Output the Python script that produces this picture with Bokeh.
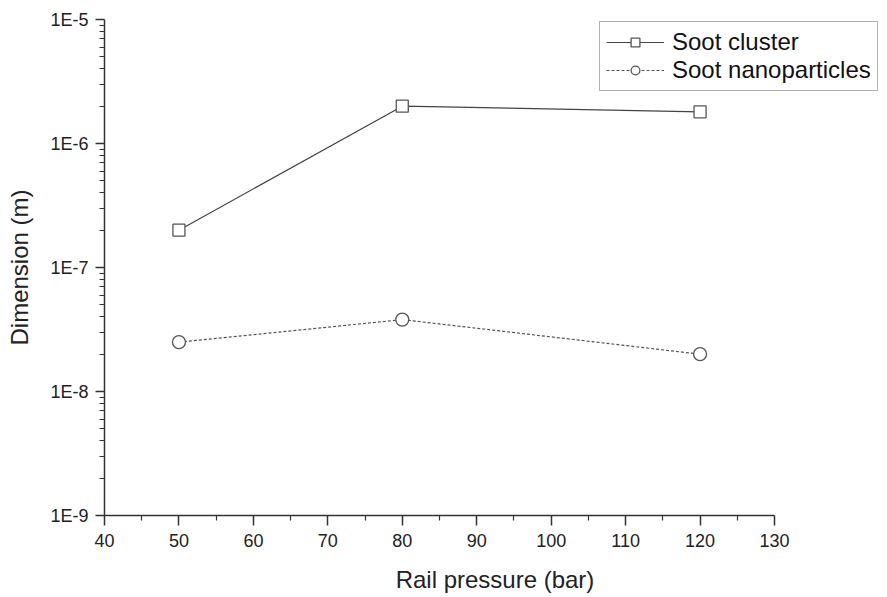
from bokeh.plotting import figure
from bokeh.models import FixedTicker, CustomJSTickFormatter, Legend, LegendItem, Range1d
from bokeh.embed import file_html
from bokeh.resources import INLINE

rail_pressure = [50, 80, 120]
soot_cluster = [2.0e-7, 2.0e-6, 1.8e-6]
soot_nano = [2.5e-8, 3.8e-8, 2.0e-8]

x_ticks = [40, 50, 60, 70, 80, 90, 100, 110, 120, 130]
x_minor = [45, 55, 65, 75, 85, 95, 105, 115, 125]
y_ticks = [1e-9, 1e-8, 1e-7, 1e-6, 1e-5]
y_labels = ["1E-9", "1E-8", "1E-7", "1E-6", "1E-5"]
y_minor = [m * d for d in [1e-9, 1e-8, 1e-7, 1e-6] for m in range(2, 10)]

FONT = "Liberation Sans"
INK = "#333333"

W, H = 885, 595
LEFT, TOP = 104, 19
BOTTOM = H - 516
frame_w = W - LEFT
axis_px = 670  # pixel length of the 40..130 axis
x_end = 40 + 90 * frame_w / axis_px

p = figure(width=W, height=H, y_axis_type="log",
           x_range=Range1d(40, x_end), y_range=Range1d(1e-9, 1e-5),
           output_backend="svg", toolbar_location=None,
           min_border_left=LEFT, min_border_right=0, min_border_top=TOP, min_border_bottom=BOTTOM)
p.outline_line_color = None
p.grid.visible = False

p.xaxis.ticker = FixedTicker(ticks=x_ticks, minor_ticks=x_minor)
p.xaxis.bounds = (40, 130)
p.yaxis.ticker = FixedTicker(ticks=y_ticks, minor_ticks=y_minor)
p.yaxis.formatter = CustomJSTickFormatter(args=dict(vals=y_ticks, labs=y_labels), code="""
for (let i = 0; i < vals.length; i++) { if (Math.abs(Math.log10(tick) - Math.log10(vals[i])) < 1e-6) return labs[i]; }
return '';
""")

for ax in (p.xaxis, p.yaxis):
    ax.axis_line_color = INK
    ax.axis_line_width = 1.5
    ax.major_tick_line_color = INK
    ax.minor_tick_line_color = INK
    ax.major_tick_line_width = 1.5
    ax.minor_tick_line_width = 1.2
    ax.major_tick_in = 0
    ax.minor_tick_in = 0
    ax.minor_tick_out = 5
    ax.major_label_text_font = FONT
    ax.major_label_text_font_size = "18px"
    ax.major_label_text_color = "#222222"
    ax.axis_label_text_font = FONT
    ax.axis_label_text_font_size = "24px"
    ax.axis_label_text_font_style = "normal"
    ax.axis_label_text_color = "#222222"

p.xaxis.major_tick_out = 10
p.yaxis.major_tick_out = 9
p.xaxis.axis_label = "Rail pressure (bar)"
p.yaxis.axis_label = "Dimension (m)"
p.xaxis.major_label_standoff = 8
p.yaxis.major_label_standoff = 7
p.xaxis.axis_label_standoff = 16
p.yaxis.axis_label_standoff = 14

l1 = p.line(rail_pressure, soot_cluster, line_color="#444444", line_width=1.2)
s1 = p.scatter(rail_pressure, soot_cluster, marker="square", size=12,
               fill_color="white", line_color="#555555", line_width=1.3)
l2 = p.line(rail_pressure, soot_nano, line_color="#555555", line_width=1.2, line_dash="3 2")
s2 = p.scatter(rail_pressure, soot_nano, marker="circle", size=13,
               fill_color="white", line_color="#555555", line_width=1.3)

legend = Legend(items=[LegendItem(label="Soot cluster", renderers=[l1, s1]),
                       LegendItem(label="Soot nanoparticles", renderers=[l2, s2])],
                location=(495, 424))
legend.label_text_font = FONT
legend.label_text_font_size = "24px"
legend.label_text_color = "#111111"
legend.label_standoff = 8
legend.glyph_width = 58
legend.glyph_height = 22
legend.label_height = 22
legend.spacing = -2
legend.padding = 6
legend.margin = 0
legend.border_line_color = "#666666"
legend.border_line_width = 1
legend.background_fill_color = "white"
legend.background_fill_alpha = 1
p.add_layout(legend, "center")

open("out.html", "w").write(file_html(p, INLINE))
